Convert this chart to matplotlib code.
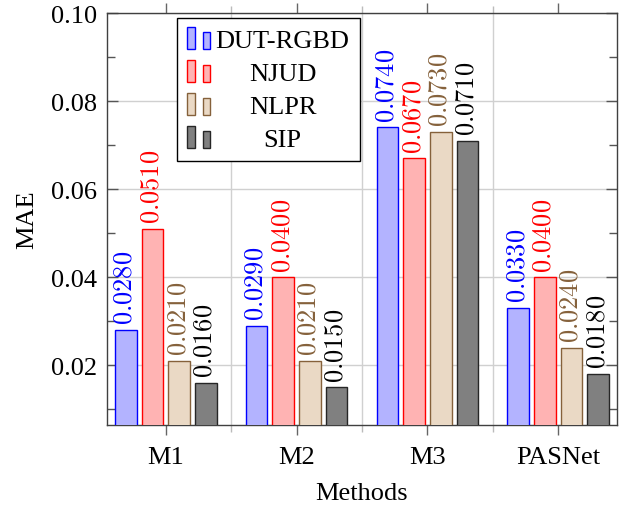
import numpy as np
import matplotlib
matplotlib.use('Agg')
import matplotlib.pyplot as plt
from matplotlib.legend_handler import HandlerBase
from matplotlib.patches import Rectangle

# dane
methods = ['M1', 'M2', 'M3', 'PASNet']
dut = [0.028, 0.029, 0.074, 0.033]
njud = [0.051, 0.040, 0.067, 0.040]
nlpr = [0.021, 0.021, 0.073, 0.024]
sip = [0.016, 0.015, 0.071, 0.018]
names = ['DUT-RGBD', 'NJUD', 'NLPR', 'SIP']

fills = ['#b3b3ff', '#ffb3b3', '#ead9c5', '#808080']
edges = ['#0000ff', '#ff0000', '#85613b', '#262626']
txtcol = ['#0000ff', '#ff0000', '#85613b', '#000000']

plt.rcParams['font.family'] = ['Liberation Serif', 'DejaVu Serif']
plt.rcParams['mathtext.fontset'] = 'cm'
plt.rcParams['font.size'] = 19


class TwoBars(HandlerBase):
    # ikonka legendy: dwa male slupki jak w pgfplots
    def create_artists(self, legend, orig_handle, xdescent, ydescent,
                       width, height, fontsize, trans):
        fc = orig_handle.get_facecolor()
        ec = orig_handle.get_edgecolor()
        y0 = -ydescent - 1.5
        r1 = Rectangle((-xdescent, y0), 5.5, 15.8, facecolor=fc,
                       edgecolor=ec, lw=1.0, transform=trans)
        r2 = Rectangle((-xdescent + 11.5, y0), 5.0, 12.2, facecolor=fc,
                       edgecolor=ec, lw=1.0, transform=trans)
        return [r1, r2]


fig = plt.figure(figsize=(6.23, 5.06), dpi=100)
ax = fig.add_axes([0.1717, 0.1581, 0.8187, 0.8142])

x = np.arange(len(methods))
step = 0.204
w = 0.166
series = [dut, njud, nlpr, sip]
handles = []
for i, vals in enumerate(series):
    off = (i - 1.5) * step
    b = ax.bar(x + off, vals, w, color=fills[i], edgecolor=edges[i],
               linewidth=1.0, zorder=3, label=names[i])
    ax.bar_label(b, labels=[r'$%.4f$' % v for v in vals], rotation=90,
                 padding=4, color=txtcol[i], fontsize=19)
    handles.append(b.patches[0])

ax.set_xlim(-0.45, 3.45)
ax.set_ylim(0.0064, 0.10)
ax.set_xticks(x)
ax.set_xticklabels(methods)
ax.set_xticks([0.5, 1.5, 2.5], minor=True)
ax.set_yticks([0.02, 0.04, 0.06, 0.08, 0.10])
ax.set_yticklabels(['0.02', '0.04', '0.06', '0.08', '0.10'])
ax.set_yticks(np.arange(0.01, 0.1, 0.01), minor=True)

ax.tick_params(axis='x', which='major', direction='out', top=True,
               length=7, width=1, color='#666666', pad=8)
ax.tick_params(axis='x', which='minor', direction='out', top=True,
               length=5, width=1, color='#bbbbbb')
ax.tick_params(axis='y', which='major', direction='in', right=True,
               length=8, width=1, color='#555555', pad=7)
ax.tick_params(axis='y', which='minor', direction='in', right=True,
               length=6, width=1, color='#555555')

ax.yaxis.grid(True, which='major', color='#d0d0d0', lw=1.0, zorder=0)
ax.xaxis.grid(True, which='minor', color='#d0d0d0', lw=1.0, zorder=0)
ax.set_axisbelow(True)
for s in ax.spines.values():
    s.set_color('#404040')
    s.set_linewidth(1.0)

ax.set_xlabel('Methods', labelpad=10)
ax.set_ylabel('MAE', labelpad=9)

leg = ax.legend(handles, names, loc='upper left',
                bbox_to_anchor=(0.137, 0.988), borderaxespad=0,
                handler_map={Rectangle: TwoBars()}, handlelength=0.87,
                handletextpad=0.2, labelspacing=0.36, borderpad=0.4,
                fancybox=False, edgecolor='black', framealpha=1,
                fontsize=19)
leg.get_frame().set_linewidth(1.0)
leg.set_zorder(5)

# wysrodkowanie tekstow w legendzie
fig.canvas.draw()
r = fig.canvas.get_renderer()
widths = [t.get_window_extent(r).width for t in leg.get_texts()]
shift = max(widths)
for t, tw in zip(leg.get_texts(), widths):
    t.set_position(((shift - tw) / 2, 0))

fig.savefig('out.png', dpi=100)
